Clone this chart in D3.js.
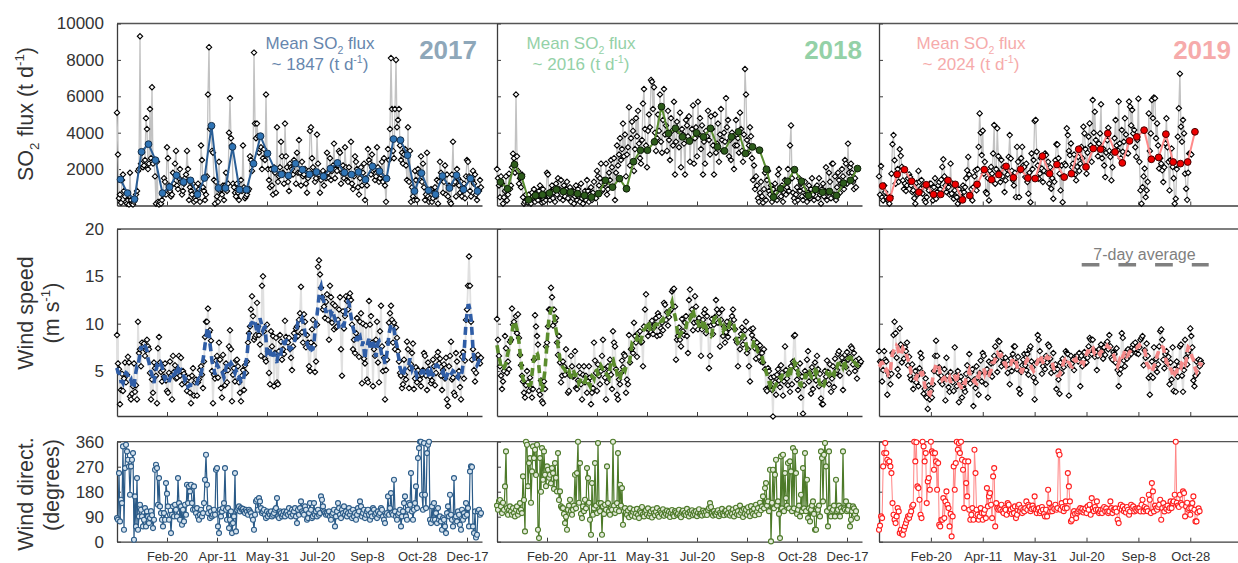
<!DOCTYPE html>
<html>
<head>
<meta charset="utf-8">
<script src="https://cdn.jsdelivr.net/npm/d3@7"></script>
<style>
  html, body { margin: 0; padding: 0; background: #fff; }
  svg { display: block; font-family: "Liberation Sans", Arial, sans-serif; }
</style>
</head>
<body>
<svg id="chart" width="1238" height="563"></svg>
<script>
// ---------- labels ----------
const years = ["2017", "2018", "2019"];
const meanFlux = [1847, 2016, 2024];
const tickDays = [50, 100, 150, 200, 250, 300, 350];
const tickLabels = ["Feb-20", "Apr-11", "May-31", "Jul-20", "Sep-8", "Oct-28", "Dec-17"];
const so2Ticks = [2000, 4000, 6000, 8000, 10000];
const windTicks = [5, 10, 15, 20];
const dirTicks = [0, 90, 180, 270, 360];

// ---------- daily SO2 flux (t/d), day 0 = Jan 1 ----------
const so2Daily2017 = [
  5100,2800,400,600,150,1400,1700, 800,500,200,100,300,50,1800, 300,100,50,200,400,600,800,
  1900,2000,9300,2300,2900,2100,2200, 2500,4800,4200,2000,2300,5300,2600, 6500,2300,2500,1600,100,2400,200,
  50,200,100,300,600,1500,1300, 600,3200,2600,1100,800,500,600, 1800,1200,2300,3000,1100,900,1500,
  2000,1300,600,800,1200,1500,1700, 3000,2000,300,1000,800,600,1200, 200,400,300,700,1200,900,200,
  3300,2500,1000,800,300,600,1600, 6100,8700,4200,4300,3000,2900,1400, 100,1300,500,200,2400,800,900,
  600,1100,300,1100,1800,800,1200, 4000,5900,3700,3300,1200,1000,700, 500,1200,700,300,900,1400,800,
  3300,1000,400,500,600,800,900, 2700,2500,1900,2300,8400,4500,3700, 4500,3800,2900,3100,3200,2000,2600,
  3100,2500,6100,2800,2000,1400,1000, 2000,1100,600,2100,1800,700,4300, 1300,1600,2100,3500,2700,1800,1200,
  4500,2700,2100,1300,800,2300,2100, 2000,1700,2500,2300,1200,2900,1800, 3600,1800,1100,2400,1600,1700,2000,
  1200,700,1500,1900,4100,4300,2600, 2100,1800,1300,1500,3900,2300,1700, 700,1400,1800,1900,1100,1700,1500,
  2900,1800,1500,2600,1400,1900,2200, 3400,1500,2000,1900,2200,3000,2900, 1200,1800,2200,1500,3200,2100,1400,
  1300,2100,1700,3500,1200,900,1600, 2700,2400,2000,1000,600,1500,2100, 1100,1800,2300,300,1500,1100,3100,
  2500,2300,1700,2800,1900,2000,1400, 1600,3200,2100,1300,1500,1700,2400, 1300,2600,1100,200,1500,3100,2500,
  4200,8100,5300,3000,2600,5300,8000, 4300,4700,5300,3300,2500,2900,2300, 2800,3100,2200,1400,4300,1300,3000,
  200,1000,500,300,1900,1400,300, 2000,1800,1400,2700,1300,2300,1000, 300,600,2900,500,200,400,900,
  200,400,700,1000,500,1400,100, 1300,2400,1800,1500,700,1300,2200, 600,1700,500,1100,200,100,1700,
  3500,1200,1300,500,2000,1500,1100, 700,1300,500,800,1200,400,1600, 2500,2400,1600,800,500,1400,1900,
  1200,1700,600,300,900,800,1400, 1000
];
const so2Daily2018 = [
  2000,1500,1100,450,1600,1200,100,450,800,1600,
  280,600,1750,900,1100,2100,2850,2600,1800,6100,
  2700,1900,1200,1500,1000,1700,450,100,200,600,
  300,150,600,300,100,700,500,900,200,400,
  700,300,800,1100,500,150,900,200,600,300,
  1800,1700,500,300,800,1100,400,700,200,1200,
  600,1500,900,400,1400,800,300,1100,500,900,
  1300,400,700,1000,200,600,800,100,500,1100,
  300,900,600,200,1200,400,100,500,800,300,
  1400,800,200,600,1000,300,700,1300,500,400,
  1900,1600,1100,1500,2300,800,900,1400,1200,2300,
  600,900,1800,1400,2500,2100,1000,2600,300,1800,
  3300,2200,2800,3700,2500,3100,4500,2700,3900,1600,
  2800,3200,5400,2200,3700,4600,4100,1900,3100,4800,
  3800,5200,3400,2600,2300,3600,5600,6400,4200,3300,
  2100,4100,5000,4300,6900,6800,5300,6500,4000,3000,
  3700,5000,4100,6100,3500,2900,4700,6400,3900,4400,
  3000,5200,3600,2500,4800,4100,3300,5700,1700,3500,
  4600,4100,3200,5100,2100,4200,3900,3400,1700,4700,
  4400,3800,4900,2400,3600,4200,5500,2300,3700,4300,
  2700,5700,3900,4800,3100,4400,1700,3500,2300,4100,
  3800,5200,3600,2800,4900,4200,3300,1700,5000,2900,
  3400,4500,2400,3900,5300,3600,3000,4000,3500,5900,
  4300,4700,2700,3600,2500,4000,3800,2000,3300,4700,
  3300,3700,2900,5100,4200,3000,2400,3900,7500,6100,
  3600,2900,3300,4300,3800,2600,1400,2200,900,1600,
  1100,400,200,700,1300,500,150,900,1800,300,
  1400,1900,800,600,1100,200,900,400,1200,700,
  300,1700,2000,900,500,1100,200,700,1400,600,
  1000,2000,800,3300,4400,1500,700,400,200,600,
  1000,300,1500,800,1200,500,300,900,1300,600,
  200,700,1100,400,900,1500,600,300,800,1000,
  1100,400,1500,600,100,900,1200,500,800,2100,
  300,700,1800,1300,400,2300,2300,600,1600,300,
  1000,1800,1400,700,1200,2000,1600,900,2500,2300,
  1200,3400,1800,2100,2300,1800,1300,900,1500,1000
];
const so2Daily2019 = [
  1600,590,2170,460,280,1100,740,460,300,280,
  100,500,1750,3370,3870,2490,1200,1750,2000,1300,
  3090,2730,2120,1380,900,1200,800,1100,1500,1710,
  1560,1100,740,830,400,100,1240,600,1900,1300,
  920,1400,650,1100,300,180,460,1000,830,1200,
  1200,700,280,1010,1500,370,740,1100,1290,900,
  1420,2120,2540,1600,1100,740,1300,1010,600,2300,
  650,1200,370,830,500,460,100,900,280,700,
  460,1100,740,1010,1500,1930,2670,1700,460,900,
  280,1010,1600,1930,830,2000,3220,5060,4000,2770,
  4110,1750,2400,740,650,1500,280,1900,2120,1750,
  2860,4420,1200,2000,4240,2710,1800,1290,2500,1600,
  2120,740,1380,2000,1700,2670,3870,2580,1900,1400,
  1100,1800,460,3220,2400,460,1930,2600,3220,2200,
  2120,1560,2300,1290,650,1800,180,2860,2000,2500,
  4640,4700,2950,2200,1470,1750,2600,2030,1290,1900,
  2860,2770,1800,2400,1200,2100,920,1500,370,1300,
  2490,3370,3350,2600,1750,830,2200,180,1600,2300,
  2210,4240,3870,3000,2770,3410,2100,2300,2800,1700,
  1380,2120,2670,1900,2300,3220,2600,4330,3960,3100,
  1750,2900,3780,4510,3300,2400,5800,4000,5150,3600,
  3220,2710,3400,3960,5560,2600,3130,2200,1560,2900,
  3590,4270,3000,2670,1380,2100,2950,3700,4700,3300,
  3040,5710,3410,2600,4150,2950,3500,4790,3900,2900,
  2860,5710,5430,4400,5250,3960,4150,3200,2670,3600,
  5870,2400,830,100,1010,1600,2030,460,830,1300,
  5060,3000,3960,5800,4800,5930,5890,3700,4510,3300,
  2030,2600,2300,1930,1290,2100,3410,4790,3200,2400,
  830,2500,3130,2120,1500,100,370,2000,3780,5340,
  7240,4330,3500,4700,3960,1750,920,310,1800,2860,
  2860,2800
];

// ---------- weekly mean SO2 flux (t/d) ----------
const so2Weekly2017 = [1430,680,350,2950,3370,2490,680,1010,1660,1290,1380,610,1510,4380,960,960,3220,870,870,2300,
  3810,2860,2010,1710,1640,2300,1970,1710,1840,1600,2030,2340,1810,1700,1840,1420,2150,1880,1480,3650,
  3590,2760,790,1780,830,610,1620,960,1660,880,1480,790];
const so2Weekly2018 = [1290,920,2250,1600,310,550,590,680,870,770,730,650,550,460,650,1380,1010,1480,920,2410,
  3040,3040,3500,5430,3960,4240,3770,3540,3990,3770,4240,3220,3000,3770,4050,2860,3220,3040,1990,460,
  920,1330,1970,1330,550,880,730,770,550,1230,1380,2030];
const so2Weekly2019 = [1070,400,1710,1970,1330,730,1140,610,610,1380,1160,310,550,1160,1970,1420,1700,2150,1530,1990,
  1510,1480,2710,1750,2250,1560,1750,3090,2120,3130,3090,3960,2940,2340,3550,3770,4140,2540,2640,3920,
  2390,2300,2390,4050];

// ---------- daily wind speed (m/s) ----------
const wind2017 = [
  8.8,5.8,5.2,1.5,3.0,4.7,2.9,4.2,5.9,3.8, 4.6,6.5,5.9,2.3,2.0,2.6,3.4,5.8,2.8,3.5,
  2.0,10.2,6.9,7.3,5.5,8.0,7.6,7.9,6.6,7.2, 8.3,7.6,7.3,4.8,2.0,4.1,2.7,5.9,5.3,4.5,
  1.6,7.4,8.6,5.9,4.9,3.9,5.1,4.4,5.8,4.0, 2.9,2.7,4.8,6.0,4.5,2.0,6.6,4.9,5.6,4.2,
  4.3,5.2,6.6,4.5,6.4,3.6,5.0,4.7,3.8,4.4, 2.9,3.6,4.3,2.7,1.6,4.5,5.3,2.4,3.8,4.1,
  2.4,3.8,4.1,5.1,5.5,4.6,3.2,6.0,8.6,10.2, 10.2,11.6,9.1,9.3,8.2,5.0,1.6,4.6,4.2,6.1,
  6.6,4.3,8.0,6.2,3.2,2.2,6.7,4.9,3.5,5.8, 3.8,5.1,7.6,9.3,7.3,1.8,4.6,5.3,3.9,6.1,
  6.2,5.5,3.8,2.7,1.8,4.5,5.1,3.0,5.6,4.8, 6.0,8.0,9.0,9.7,11.5,12.9,10.8,8.3,8.6,8.8,
  12.2,9.7,8.8,7.8,6.6,14.0,15.0,9.2,6.3,6.0, 9.9,7.1,4.8,3.6,9.2,7.6,8.7,3.4,6.9,8.5,
  3.8,3.6,7.1,8.8,8.1,6.2,7.3,6.8,10.3,8.6, 8.1,8.0,8.5,7.3,6.4,5.1,7.6,9.0,8.4,9.5,
  9.7,8.7,10.4,11.1,13.9,9.1,8.0,11.0,10.2,7.5, 8.8,8.0,5.5,5.0,8.0,9.4,10.4,7.7,4.9,6.0,
  9.9,16.0,16.7,15.2,13.8,12.8,11.5,11.8,10.6,12.3, 13.1,10.4,8.3,14.0,12.8,10.1,12.1,9.4,11.9,9.6,
  9.7,10.4,11.5,12.8,7.3,4.5,11.3,9.5,10.8,12.9, 12.4,11.5,12.8,13.2,12.5,9.9,7.3,8.3,6.9,9.0,
  10.6,8.5,6.5,10.2,11.1,3.7,10.0,6.3,5.8,9.8, 4.1,3.8,12.4,9.9,10.8,8.0,3.4,7.3,6.6,8.3,
  10.2,5.9,3.8,9.2,11.9,7.6,5.0,6.4,2.0,5.1, 6.2,8.0,10.1,11.1,11.9,10.4,8.0,10.1,7.3,9.6,
  8.5,7.1,6.0,4.8,4.5,3.2,3.6,6.2,4.6,4.1, 8.1,7.3,3.2,5.3,5.7,6.9,7.9,3.1,4.2,5.4,
  3.8,5.1,4.5,4.1,3.4,4.6,5.1,6.9,6.6,4.5, 3.0,5.9,5.2,4.4,3.7,4.0,6.2,5.5,3.5,4.8,
  6.6,7.0,5.8,6.3,4.5,3.0,5.1,5.7,4.2,6.4, 2.0,1.3,5.5,6.6,8.1,4.1,4.3,2.7,2.4,6.9,
  6.0,4.4,5.0,3.3,2.0,6.5,7.0,4.2,6.1,10.4, 11.5,14.0,17.1,14.0,10.2,6.2,7.3,5.1,3.9,4.8,
  6.6,6.7,6.2,5.8,6.4
];
const wind2018 = [
  10.5,8.3,6.6,5.5,4.5,3.1,3.9,5.0,8.7,7.4,4.8,6.0,
  5.2,8.1,8.3,11.6,9.9,10.2,9.4,10.8,9.0,11.0,8.5,6.7,5.6,
  4.5,3.9,2.7,2.2,3.5,5.0,3.8,2.9,4.3,3.2,2.2,
  3.1,6.2,10.9,9.7,8.7,7.8,2.9,2.5,4.0,1.8,1.6,
  3.9,3.1,7.6,8.0,9.7,11.5,11.5,13.8,12.8,9.8,11.5,10.2,
  10.6,8.0,6.7,8.7,5.9,3.8,4.5,6.0,5.5,4.6,7.3,5.1,
  2.7,2.9,4.5,6.6,5.5,4.4,4.5,7.1,3.2,3.1,4.0,5.5,4.8,3.6,
  2.0,4.6,5.5,3.8,4.5,2.7,3.9,5.5,4.3,1.5,2.7,3.2,8.0,6.1,
  4.8,2.9,5.7,4.5,3.6,5.0,6.6,8.3,5.2,4.3,2.0,3.8,5.5,4.9,6.2,
  4.6,3.1,9.2,8.0,7.6,5.2,2.5,2.0,4.1,3.6,4.8,6.1,5.4,6.8,6.6,
  2.7,4.1,3.6,8.8,5.9,7.3,7.4,6.9,10.1,8.7,8.0,6.5,9.0,8.4,
  9.2,8.0,8.1,5.5,9.7,11.5,13.1,9.5,8.7,9.4,10.0,9.1,10.3,8.9,9.6,
  9.9,10.6,8.7,11.1,10.8,8.8,9.5,10.1,9.3,12.2,12.0,10.4,11.2,9.8,10.7,11.3,
  11.5,13.4,13.6,13.7,11.8,6.2,8.3,8.7,9.6,8.3,7.6,10.5,9.2,8.8,10.1,
  10.8,8.7,6.9,12.5,13.6,10.8,11.5,9.3,10.1,12.9,11.8,10.2,9.4,10.6,9.9,
  6.6,9.4,10.4,11.1,11.5,9.0,10.8,9.7,5.3,6.6,9.8,10.5,8.9,9.9,10.7,
  12.5,11.5,10.1,11.1,7.6,10.4,11.5,8.7,9.7,8.0,9.1,10.2,8.6,9.5,10.0,
  10.4,10.8,11.5,10.4,9.4,8.3,8.0,5.5,8.3,7.3,8.9,9.6,7.8,8.5,9.3,
  10.2,6.9,7.3,5.5,3.9,9.4,8.8,9.5,8.3,7.4,6.3,8.0,7.2,6.5,7.7,6.0,
  6.9,5.9,7.3,5.2,3.1,2.9,5.3,5.0,3.4,4.3,3.0,0.2,4.4,3.8,2.5,4.6,5.2,
  4.0,3.3,5.6,4.8,2.4,3.9,7.6,5.1,4.2,3.5,
  4.9,2.8,5.5,3.6,6.0,8.7,8.8,5.3,4.1,3.0,
  4.7,5.8,2.2,4.4,0.5,3.5,5.0,4.6,6.2,7.1,
  3.9,4.8,2.6,5.4,3.1,4.3,5.9,4.0,6.6,5.2,
  3.4,4.7,2.1,1.5,1.5,3.8,5.0,4.4,6.1,4.9,
  3.6,5.7,2.8,4.2,5.5,3.3,6.3,4.8,5.1,6.8,
  7.1,4.5,5.8,6.4,3.0,5.9,6.7,5.4,7.0,6.2,
  4.8,6.5,7.6,7.4,5.7,6.9,5.0,6.1,4.2,5.5,
  6.3,5.8,6.0
];
const wind2019 = [
  7.1,6.0,5.9,3.9,5.1,7.1,6.2,6.0,2.5,4.8, 4.5,3.6,4.7,6.9,8.8,10.2,9.0,6.4,5.2,4.5,
  9.5,7.8,5.9,7.5,6.3,7.5,7.1,8.0,5.6,6.5, 4.5,4.1,5.7,3.1,4.0,5.0,3.8,4.5,3.4,5.3,
  6.9,6.4,4.8,2.6,3.1,4.2,2.2,1.0,3.5,2.0, 2.9,2.2,3.6,5.0,6.6,8.2,6.6,4.8,5.4,3.9,
  4.5,3.6,4.1,5.2,1.9,6.4,4.5,3.3,2.8,4.9, 4.0,3.8,2.9,7.5,4.5,3.4,5.0,1.7,3.9,4.4,
  2.2,3.4,3.1,2.8,4.7,5.6,4.1,6.8,3.7,4.9, 5.2,1.3,4.1,3.2,5.5,4.3,2.5,4.8,6.1,3.9,
  6.9,6.6,4.8,3.6,5.2,2.2,6.0,4.7,5.8,4.4, 5.9,6.6,7.6,6.2,4.9,8.2,8.1,6.9,5.5,6.4,
  5.9,5.7,6.4,5.6,4.8,5.7,3.6,6.3,5.0,6.8, 7.6,7.6,5.9,5.2,6.5,3.1,2.6,4.9,5.6,6.2,
  6.8,5.6,5.1,6.8,4.6,7.3,7.6,6.0,5.4,4.3, 2.0,3.8,5.9,8.8,8.3,7.1,6.2,4.7,5.5,6.1,
  5.2,6.6,5.9,7.8,7.6,6.3,4.8,5.5,6.9,5.0, 5.7,3.1,5.2,4.1,2.6,5.9,4.8,6.3,5.4,6.0,
  7.1,6.9,6.8,2.4,5.6,6.6,5.8,6.2,5.1,6.5, 6.4,6.6,6.0,6.9,3.4,6.6,5.5,6.2,7.0,5.8,
  5.9,6.4,7.6,8.5,8.3,6.8,8.3,7.2,6.5,7.0, 5.1,6.6,7.3,6.9,7.8,7.1,6.3,7.5,6.7,7.9,
  8.1,7.3,8.8,7.6,6.4,6.2,7.0,6.8,5.9,7.4, 5.1,3.4,4.7,5.2,9.0,8.5,6.1,5.5,7.0,6.3,
  7.3,6.6,7.1,6.8,7.5,7.8,7.3,8.0,6.9,7.6, 6.8,7.5,8.3,8.5,8.7,5.6,7.2,6.4,7.9,6.6,
  4.3,2.5,4.5,6.0,4.3,7.5,5.2,6.3,4.9,5.7, 7.6,9.2,9.4,8.3,6.2,5.3,6.8,7.1,5.8,6.5,
  3.6,5.9,4.1,7.5,2.9,5.2,2.8,6.0,4.4,5.5, 7.6,7.8,4.5,2.8,5.1,8.3,6.4,5.7,6.9,7.2,
  9.5,8.7,7.5,4.0,3.4,4.5,6.0,4.8,6.2,5.5,6.1,5.8
];

// ---------- daily wind direction (degrees) ----------
const dir2017 = [
  85,79,247,73,151,139,343,43,265,349, 325,295,271,169,271,295,319,7,163,55,
  229,43,91,133,115,91,55,79,121,55, 109,91,67,85,110,95,49,79,259,277,
  265,133,229,127,103,79,55,103,79,211, 173,127,79,97,31,97,127,91,133,115,
  91,229,139,79,127,61,115,73,133,97, 205,139,199,181,205,139,115,199,115,103,
  121,91,79,97,115,91,103,139,223,313, 205,103,121,85,109,91,97,115,97,259,
  265,55,31,115,91,109,121,139,265,115, 79,121,49,79,109,31,67,91,247,37,
  115,121,127,109,121,115,118,109,103,115, 109,97,115,109,103,91,79,43,97,145,
  151,115,157,145,121,103,109,115,97,85, 109,91,103,97,109,91,97,103,115,121,
  157,91,85,109,103,91,97,109,91,103, 109,97,121,103,91,115,97,109,121,91,
  67,115,97,121,145,109,103,97,127,115, 79,85,103,139,115,85,91,139,97,109,
  91,115,97,103,163,151,127,109,103,97, 103,97,109,91,79,97,103,115,55,91,
  109,139,121,97,85,115,103,127,97,109, 91,103,121,97,109,85,115,91,103,79,
  97,121,109,145,127,91,103,115,85,97, 109,115,97,79,103,91,121,115,97,103,
  85,109,97,103,121,115,91,79,67,97, 103,163,97,121,175,103,97,223,109,91,
  79,97,103,115,55,91,109,139,163,91, 79,115,139,133,247,109,79,115,139,199,
  121,301,337,360,360,169,115,355,169,121, 319,349,360,79,67,127,79,139,79,103,
  67,121,79,91,73,43,85,79,55,31, 103,127,91,169,97,79,55,229,85,91,
  73,109,97,61,43,115,79,103,91,139, 97,121,55,253,271,269,55,31,109,15,
  25,109,115,97,103
];
const dir2018 = [
  130,115,145,150,127,103,140,115,199,325, 121,97,115,127,109,97,121,103,91,115,
  127,97,109,139,115,103,
  235,150,37,360,349,200,283,301,140,253, 343,301,331,240,349,43,13,301,180,337,
  223,325,241,200,271,259,230,241,210,265, 247,190,283,230,181,319,150,181,127,121,
  121,100,67,90,43,115,130,151,110,97, 115,130,241,120,247,360,140,283,100,85,
  127,110,151,120,265,229,140,79,25,211, 97,120,283,130,103,355,139,110,139,25,
  127,100,133,115,271,139,110,97,120,115, 360,130,103,115,139,319,110,205,130,193,
  61,110,121,
  105,97,112,88,120,100,94,108,115,90, 102,118,96,85,110,104,125,99,91,107,
  113,98,120,92,101,109,87,116,103,95, 108,121,97,90,111,104,99,117,93,106,
  100,112,95,108,89,103,114,98,92,110, 105,97,101,115,93,88,107,112,99,104,
  96,118,102,91,109,100,113,95,106,98, 110,92,104,117,99,101,94,112,105,97,
  108,96,115,121,139,125,103,94,110,100, 97,106,113,92,104,99,118,101,95,109,
  112,98,103,120,94,107,100,116,91,105, 122,99,110,96,130,104,112,89,118,101,
  115,97,124,106,92,128,110,100,119,95, 133,108,121,99,140,113,127,
  163,120,193,211,130,145,110,259,1,140, 259,120,241,295,130,145,100,13,307,120,
  313,110,247,157,130,283,120,289,253,110, 337,120,325,247,100,115,130,91,169,110,
  265,120,319,110,223,85,120,73,115,130, 145,100,43,43,120,115,130,91,325,301,
  145,313,355,271,110,55,325,121,91,110, 115,130,91,223,110,115,130,91,121,110,
  325,120,115,145,110,115,130,55,79,110, 127,120,97,110,85
];
const dir2019 = [
  43,58,91,85,271,319,355,319,295,283, 289,271,247,139,97,79,67,91,121,109,
  31,43,31,25,43,55,67,79,91,85, 97,109,127,133,360,289,358,199,193,151,
  97,85,360,343,289,319,139,217,229,187, 360,325,319,259,319,289,187,283,61,55,
  79,79,157,85,145,181,133,121,55,100, 19,91,271,187,283,360,331,355,319,360,
  295,259,121,289,211,163,289,115,79,97, 121,79,331,247,115,97,79,91,121,103,
  79,103,115,85,193,127,163,175,133,85, 235,265,55,139,121,115,121,115,133,110,
  103,121,115,97,139,133,109,115,100,121, 103,127,85,97,127,133,110,121,103,115,
  109,121,145,115,133,127,110,118,130,120, 163,115,103,115,121,103,110,125,115,100,
  91,115,91,187,139,109,121,110,125,118, 133,115,121,325,313,115,139,125,110,120,
  145,121,247,199,145,73,79,95,110,100, 85,103,109,115,121,109,118,105,112,120,
  103,127,115,133,97,157,120,110,125,115, 145,115,103,109,115,103,118,125,110,120,
  109,103,109,145,121,103,115,112,120,108, 79,67,121,133,115,127,110,118,105,125,
  115,97,109,133,121,127,109,118,112,120, 115,121,109,133,151,109,125,115,120,110,
  169,151,103,211,181,109,130,120,115,125, 133,151,79,121,139,109,125,118,130,112,
  121,145,121,139,145,169,360,140,130,125, 169,139,133,181,175,91,127,140,115,120,
  97,121,139,163,115,73,73,105,120,110
];

// ---------- series grouped per year ----------
const so2Daily = [so2Daily2017, so2Daily2018, so2Daily2019];
const so2Weekly = [so2Weekly2017, so2Weekly2018, so2Weekly2019];
const windDaily = [wind2017, wind2018, wind2019];
const dirDaily = [dir2017, dir2018, dir2019];

// ---------- layout & style ----------
const panels = [
  { left: 117, xRange: [117, 482], domainMax: 365, borderEnd: 497 },
  { left: 497, xRange: [497, 862], domainMax: 365, borderEnd: 879 },
  { left: 879, xRange: [879, 1238], domainMax: 346, borderEnd: 1238 }
];
const rows = [
  { top: 23.5, bottom: 205.5, domain: [0, 10000], ticks: so2Ticks },
  { top: 229, bottom: 416, domain: [0.25, 20], ticks: windTicks },
  { top: 441.7, bottom: 541.7, domain: [0, 360], ticks: dirTicks }
];
const yearStyle = [
  { title: "#8ea7b9", note: "#6786ad", wkFill: "#2f74b5", wkStroke: "#15304c", wkLine: "#2a5e96",
    dash: "#2f5da6", dirStroke: "#2b5b88", dirFill: "#d6e3ee", dirLine: "#2b5b88", dirW: 1.2 },
  { title: "#94d1a7", note: "#94d1a7", wkFill: "#2d5c1c", wkStroke: "#0e1d09", wkLine: "#5a8f31",
    dash: "#5b8d2d", dirStroke: "#4d7a29", dirFill: "#e4ebdc", dirLine: "#4d7a29", dirW: 1.2 },
  { title: "#f6abab", note: "#f6abab", wkFill: "#ee0000", wkStroke: "#4a0000", wkLine: "#ff8a8a",
    dash: "#f48888", dirStroke: "#ff1f1f", dirFill: "#ffffff", dirLine: "#ff8585", dirW: 1 }
];
const axisColor = "#3c3c3c";
const textColor = "#333";
const diamond = "M0,-2.7L2.7,0L0,2.7L-2.7,0Z";

const svg = d3.select("#chart");

// centred 7-day running mean
function rolling7(v) {
  return v.map((_, i) => d3.mean(v.slice(Math.max(0, i - 3), i + 4)));
}

// text with sub/superscript pieces
function richText(g, parts, fs) {
  const t = g.append("text").attr("font-size", fs).attr("fill", textColor).attr("text-anchor", "middle");
  let shift = 0;
  parts.forEach(p => {
    const target = p.sub ? 0.28 * fs : p.sup ? -0.42 * fs : 0;
    const ts = t.append("tspan").text(p.t).attr("dy", target - shift);
    if (p.sub || p.sup) ts.attr("font-size", fs * 0.62);
    shift = target;
  });
  return t;
}

const xScales = panels.map(p => d3.scaleLinear().domain([0, p.domainMax]).range(p.xRange));
const yScales = rows.map(r => d3.scaleLinear().domain(r.domain).range([r.bottom, r.top]));

// ---------- frames and axes ----------
rows.forEach((r, ri) => {
  panels.forEach((p, pi) => {
    const g = svg.append("g");
    // top border
    g.append("line").attr("x1", p.left).attr("x2", p.borderEnd).attr("y1", r.top).attr("y2", r.top)
      .attr("stroke", "#555").attr("stroke-width", 1.3);
    // left axis with inward ticks
    const yAxis = d3.axisLeft(yScales[ri]).tickValues(r.ticks).tickSize(-4).tickSizeOuter(0).tickPadding(13)
      .tickFormat(pi === 0 ? d3.format("d") : () => "");
    g.append("g").attr("transform", `translate(${p.left},0)`).call(yAxis)
      .call(a => a.select(".domain").attr("stroke", axisColor).attr("stroke-width", 1.3))
      .call(a => a.selectAll(".tick line").attr("stroke", axisColor))
      .call(a => a.selectAll("text").attr("font-size", 17).attr("fill", textColor)
        .attr("font-family", "Liberation Sans, Arial, sans-serif"));
    // bottom axis with inward ticks
    const days = tickDays.filter(d => d <= p.domainMax);
    const xAxis = d3.axisBottom(xScales[pi]).tickValues(days).tickSize(-4).tickSizeOuter(0).tickPadding(10)
      .tickFormat(ri === 2 ? (d => tickLabels[tickDays.indexOf(d)]) : () => "");
    g.append("g").attr("transform", `translate(0,${r.bottom})`).call(xAxis)
      .call(a => a.select(".domain").attr("stroke", axisColor).attr("stroke-width", 1.3))
      .call(a => a.selectAll(".tick line").attr("stroke", axisColor))
      .call(a => a.selectAll("text").attr("font-size", 13).attr("fill", textColor)
        .attr("font-family", "Liberation Sans, Arial, sans-serif"));
  });
});

// ---------- data ----------
panels.forEach((p, pi) => {
  const x = xScales[pi];
  const st = yearStyle[pi];

  // SO2 flux: daily diamonds + weekly means
  const yS = yScales[0];
  const so2 = so2Daily[pi].map((v, i) => ({ d: i, v }));
  const gS = svg.append("g");
  gS.append("path").datum(so2)
    .attr("d", d3.line().x(q => x(q.d)).y(q => yS(q.v)))
    .attr("fill", "none").attr("stroke", "#c2c2c2").attr("stroke-width", 1.3);
  gS.selectAll("path.dm").data(so2).join("path").attr("class", "dm")
    .attr("d", diamond).attr("transform", q => `translate(${x(q.d)},${yS(q.v)})`)
    .attr("fill", "#fff").attr("stroke", "#000").attr("stroke-width", 1.1);
  const wk = so2Weekly[pi].map((v, i) => ({ d: 7 * i + 3.5, v }));
  gS.append("path").datum(wk)
    .attr("d", d3.line().x(q => x(q.d)).y(q => yS(q.v)))
    .attr("fill", "none").attr("stroke", st.wkLine).attr("stroke-width", 2);
  gS.selectAll("circle").data(wk).join("circle")
    .attr("cx", q => x(q.d)).attr("cy", q => yS(q.v)).attr("r", 3.4)
    .attr("fill", st.wkFill).attr("stroke", st.wkStroke).attr("stroke-width", 1);

  // wind speed: daily diamonds + dashed 7-day average
  const yW = yScales[1];
  const ws = windDaily[pi].map((v, i) => ({ d: i, v }));
  const gW = svg.append("g");
  gW.append("path").datum(ws)
    .attr("d", d3.line().x(q => x(q.d)).y(q => yW(q.v)))
    .attr("fill", "none").attr("stroke", "#e0e0e0").attr("stroke-width", 1.8);
  gW.selectAll("path.dm").data(ws).join("path").attr("class", "dm")
    .attr("d", diamond).attr("transform", q => `translate(${x(q.d)},${yW(q.v)})`)
    .attr("fill", "#fff").attr("stroke", "#000").attr("stroke-width", 1.1);
  const avg = rolling7(windDaily[pi]).map((v, i) => ({ d: i, v }));
  gW.append("path").datum(avg)
    .attr("d", d3.line().x(q => x(q.d)).y(q => yW(q.v)))
    .attr("fill", "none").attr("stroke", st.dash).attr("stroke-width", 3.6)
    .attr("stroke-dasharray", "8,5");

  // wind direction: connected circles
  const yD = yScales[2];
  const wd = dirDaily[pi].map((v, i) => ({ d: i, v }));
  const gD = svg.append("g");
  gD.append("path").datum(wd)
    .attr("d", d3.line().x(q => x(q.d)).y(q => yD(q.v)))
    .attr("fill", "none").attr("stroke", st.dirLine).attr("stroke-width", st.dirW);
  gD.selectAll("circle").data(wd).join("circle")
    .attr("cx", q => x(q.d)).attr("cy", q => yD(q.v)).attr("r", 2.5)
    .attr("fill", st.dirFill).attr("stroke", st.dirStroke).attr("stroke-width", 1.1);

  // year title and mean annotation
  const titleX = [477, 862, 1231][pi];
  svg.append("text").attr("x", titleX).attr("y", 59).attr("text-anchor", "end")
    .attr("font-size", 26).attr("font-weight", "bold").attr("fill", st.title).text(years[pi]);
  const noteX = [320, 581, 971][pi];
  const n1 = svg.append("g").attr("transform", `translate(${noteX},49)`);
  richText(n1, [{ t: "Mean SO" }, { t: "2", sub: true }, { t: " flux" }], 17).attr("fill", st.note);
  const n2 = svg.append("g").attr("transform", `translate(${noteX},70)`);
  richText(n2, [{ t: "~ " + meanFlux[pi] + " (t d" }, { t: "-1", sup: true }, { t: ")" }], 17).attr("fill", st.note);
});

// ---------- legend for the dashed line ----------
svg.append("text").attr("x", 1144.5).attr("y", 259.5).attr("text-anchor", "middle")
  .attr("font-size", 16).attr("fill", "#7f7f7f").text("7-day average");
svg.append("line").attr("x1", 1081.7).attr("x2", 1208.7).attr("y1", 264.7).attr("y2", 264.7)
  .attr("stroke", "#808080").attr("stroke-width", 3.4).attr("stroke-dasharray", "17.7,19");

// ---------- y-axis titles ----------
const t1 = svg.append("g").attr("transform", "translate(33,114) rotate(-90)");
richText(t1, [{ t: "SO" }, { t: "2", sub: true }, { t: " flux (t d" }, { t: "-1", sup: true }, { t: ")" }], 21.5);
const t2a = svg.append("g").attr("transform", "translate(33,313) rotate(-90)");
richText(t2a, [{ t: "Wind speed" }], 21.5);
const t2b = svg.append("g").attr("transform", "translate(59,313) rotate(-90)");
richText(t2b, [{ t: "(m s" }, { t: "-1", sup: true }, { t: ")" }], 21.5);
const t3a = svg.append("g").attr("transform", "translate(33,494) rotate(-90)");
richText(t3a, [{ t: "Wind direct." }], 21.5);
const t3b = svg.append("g").attr("transform", "translate(59,485) rotate(-90)");
richText(t3b, [{ t: "(degrees)" }], 21.5);
</script>
</body>
</html>
